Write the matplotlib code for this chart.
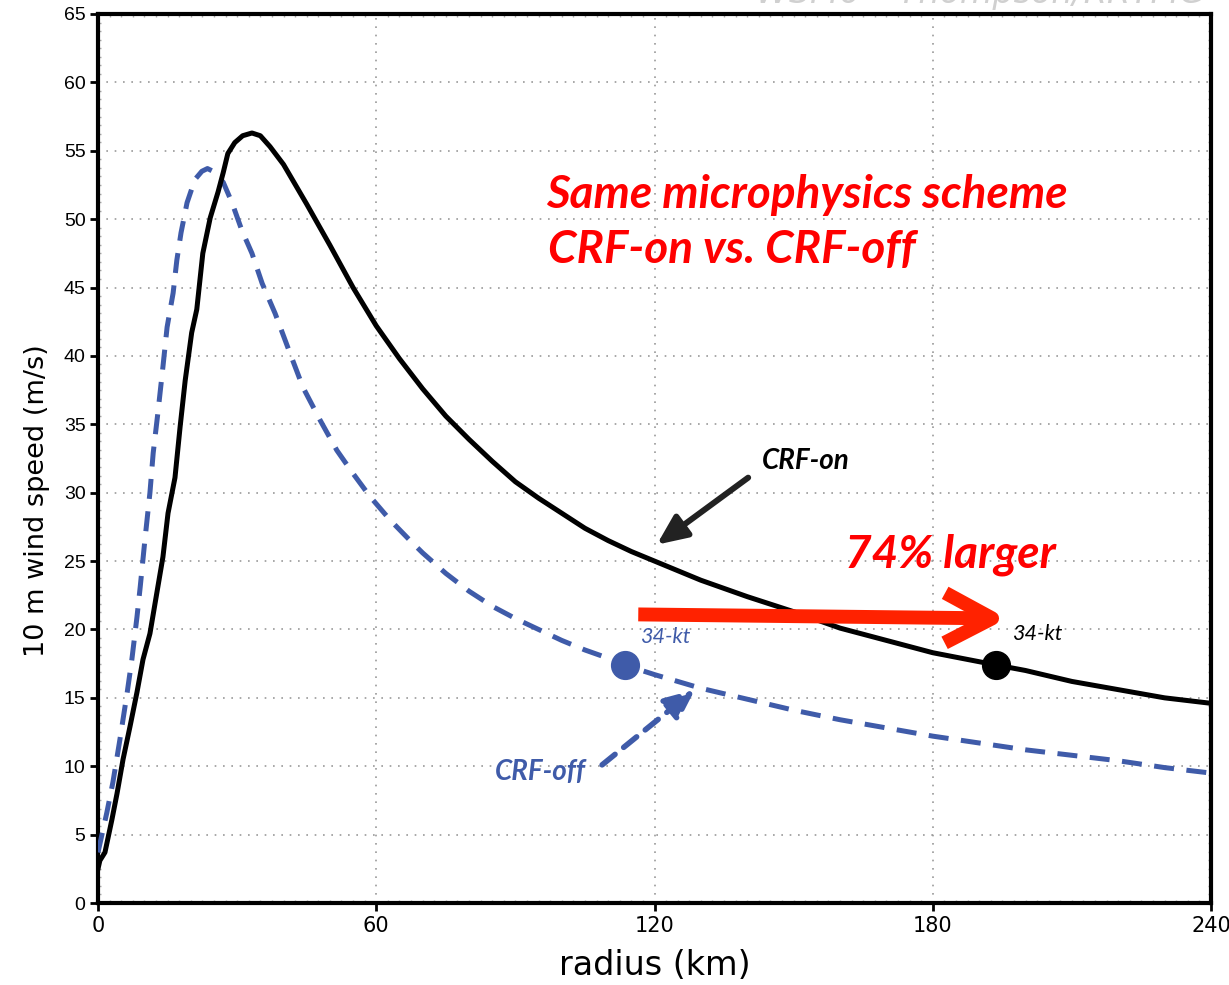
import numpy as np
import matplotlib.pyplot as plt
from matplotlib.ticker import MultipleLocator

# radius (km) and 10 m wind speed (m/s)
r_on = [0, 0.4, 1.5, 3, 4.1, 5.4, 6.9, 8.4, 9.7, 11.2, 12.7, 14, 15.1, 16.6, 17.7, 18.8,
        20.2, 21.3, 22.6, 24.2, 25.9, 27, 28, 29.5, 31.2, 33.2, 35, 37.1, 40, 45, 50, 55,
        60, 65, 70, 75, 80, 85, 90, 95, 100, 105, 110, 115, 120, 125, 130, 140, 150,
        160, 170, 180, 193.7, 200, 210, 220, 230, 240]
v_on = [2.5, 3.1, 3.7, 6.1, 8, 10.5, 12.9, 15.4, 17.8, 19.7, 22.7, 25.3, 28.5, 31.1, 34.8, 38.2,
        41.7, 43.4, 47.5, 50.1, 52, 53.4, 54.8, 55.6, 56.1, 56.3, 56.1, 55.3, 54.0, 51.1, 48.1, 45.0,
        42.2, 39.8, 37.6, 35.6, 33.9, 32.3, 30.8, 29.6, 28.5, 27.4, 26.5, 25.7, 25.0, 24.3, 23.6, 22.4, 21.3,
        20.1, 19.2, 18.3, 17.4, 17.0, 16.2, 15.6, 15.0, 14.6]

r_off = [0, 1.9, 3.2, 4.7, 6.3, 7.3, 8.4, 9.1, 10.1, 11.2, 11.9, 12.9, 14, 14.9, 16.2, 17,
         17.9, 19.2, 20.9, 22.4, 23.6, 24.8, 27, 28.9, 31, 33.2, 35.4, 38.2, 41.4, 44.2, 47.9,
         51.5, 55, 58.7, 63, 67.3, 70, 75, 80, 85, 90, 95, 100, 105, 110, 113.6, 120,
         130, 140, 150, 160, 170, 180, 190, 200, 210, 220, 230, 240]
v_off = [3.7, 6.6, 8.8, 11.9, 15.4, 17.8, 20.9, 23.1, 26.5, 30, 32.9, 35.8, 39.2, 42.1, 44.6, 47,
         49, 51.2, 52.9, 53.5, 53.7, 53.5, 52.7, 51.2, 49.2, 47.5, 45.3, 43.1, 40.2, 37.7, 35.3,
         33.1, 31.4, 29.7, 28, 26.5, 25.6, 24.1, 22.8, 21.7, 20.8, 20.0, 19.2, 18.5, 17.9, 17.4, 16.7,
         15.7, 14.9, 14.1, 13.4, 12.8, 12.2, 11.7, 11.2, 10.8, 10.4, 9.9, 9.5]

# 34-kt radii
r34_on, v34_on = 193.7, 17.4
r34_off, v34_off = 113.6, 17.4

blue = '#3f5ba9'
red = '#ff0000'
bi = dict(family=['Lato', 'DejaVu Sans'], weight='bold', style='italic')
it = dict(family=['Lato', 'DejaVu Sans'], style='italic')

fig = plt.figure(figsize=(12.29, 9.85), dpi=100)
ax = fig.add_axes([98/1229, 1-903/985, (1211-98)/1229, (903-14)/985])

ax.plot(r_off, v_off, color=blue, lw=3.6, ls=(0, (4, 2.5)), zorder=3)
ax.plot(r_on, v_on, color='black', lw=3.6, zorder=4)
ax.plot(r34_off, v34_off, 'o', color=blue, ms=20, zorder=5)
ax.plot(r34_on, v34_on, 'o', color='black', ms=20, zorder=5)

ax.set_xlim(0, 240)
ax.set_ylim(0, 65)
ax.set_xticks([0, 60, 120, 180, 240])
ax.set_yticks(np.arange(0, 66, 5))
ax.xaxis.set_minor_locator(MultipleLocator(2.5))
ax.yaxis.set_minor_locator(MultipleLocator(0.625))
ax.grid(True, which='major', color='#999999', ls=(0, (1, 4)), lw=1.2)
for s in ax.spines.values():
    s.set_linewidth(3)
ax.tick_params(which='major', direction='out', length=6, width=2, pad=3)
ax.tick_params(which='minor', direction='in', length=2, width=1, color='#aaaaaa',
               top=True, right=True)
for t in ax.get_yticklabels():
    t.set_family(['Liberation Sans', 'DejaVu Sans'])
    t.set_fontsize(14)
for t in ax.get_xticklabels():
    t.set_family(['Liberation Sans Narrow', 'DejaVu Sans'])
    t.set_fontsize(15)

ax.set_xlabel('radius (km)', fontsize=24)
ax.set_ylabel('10 m wind speed (m/s)', fontsize=19.5)
ax.xaxis.set_label_coords(0.5, -0.052)
ax.yaxis.set_label_coords(-0.043, 0.453)

ax.text(96.6, 50.8, 'Same microphysics scheme', color=red, fontsize=33, **bi)
ax.text(97, 46.8, 'CRF-on vs. CRF-off', color=red, fontsize=33, **bi)
ax.text(161.1, 24.5, '74% larger', color=red, fontsize=33, **bi)
ax.text(143.2, 31.7, 'CRF-on', color='black', fontsize=20, **bi)
ax.text(85.6, 9.0, 'CRF-off', color=blue, fontsize=20, **bi)
ax.text(116.9, 19.0, '34-kt', color=blue, fontsize=15.5, **it)
ax.text(197.1, 19.2, '34-kt', color='black', fontsize=15.5, **it)

ax.annotate('', xy=(196, 20.8), xytext=(116.5, 21.1),
            arrowprops=dict(arrowstyle='->,head_length=1.7,head_width=0.9', color='#ff2200',
                            lw=10, shrinkA=0, shrinkB=0, mutation_scale=20,
                            capstyle='butt'), zorder=6)
ax.annotate('', xy=(120.5, 26.2), xytext=(140.2, 31.1),
            arrowprops=dict(arrowstyle='-|>,head_length=0.9,head_width=0.4', color='#222222',
                            lw=4.3, shrinkA=0, shrinkB=0, mutation_scale=20), zorder=6)
ax.annotate('', xy=(128.7, 15.6), xytext=(108.7, 10.1),
            arrowprops=dict(arrowstyle='-|>,head_length=0.9,head_width=0.4', color=blue,
                            lw=4, ls=(0, (3, 2)), shrinkA=0, shrinkB=0, mutation_scale=20),
            zorder=6)

fig.text(1205/1229, 1-3/985, 'WSM6 – Thompson/RRTMG', color='#d0d0d0', fontsize=24,
         style='italic', ha='right', va='baseline')

fig.savefig('out.png', dpi=100)
